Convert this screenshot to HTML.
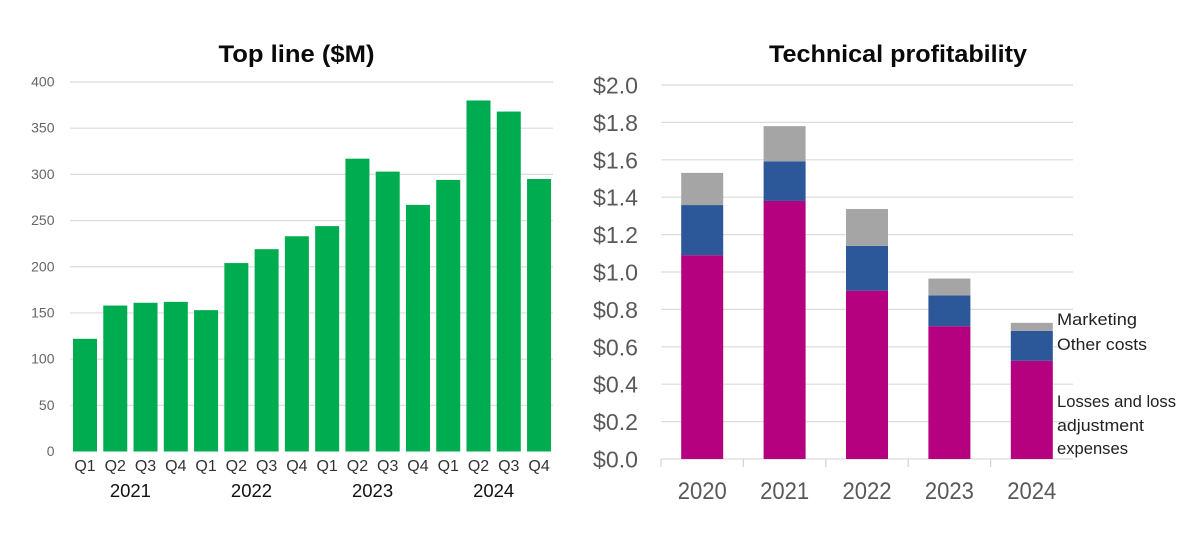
<!DOCTYPE html>
<html>
<head>
<meta charset="utf-8">
<title>Top line and technical profitability</title>
<style>
html,body{margin:0;padding:0;background:#fff;width:1200px;height:536px;overflow:hidden}
svg{display:block;font-family:"Liberation Sans",sans-serif}
</style>
</head>
<body>
<svg id="chart" width="1200" height="536" viewBox="0 0 1200 536" xmlns="http://www.w3.org/2000/svg"></svg>
<script>
const quarterLabels = ['Q1','Q2','Q3','Q4','Q1','Q2','Q3','Q4','Q1','Q2','Q3','Q4','Q1','Q2','Q3','Q4'];
const topLineValues = [122,158,161,162,153,204,219,233,244,317,303,267,294,380,368,295];
const topLineTicks = [0,50,100,150,200,250,300,350,400];
const yearGroupLabels = ['2021','2022','2023','2024'];

const profitYears = ['2020','2021','2022','2023','2024'];
const lossesValues = [1.09,1.38,0.90,0.71,0.525];
const otherCostsValues = [0.268,0.212,0.24,0.165,0.16];
const marketingValues = [0.172,0.188,0.197,0.09,0.043];
const profitTicks = [0,0.2,0.4,0.6,0.8,1.0,1.2,1.4,1.6,1.8,2.0];

const svg = document.getElementById('chart');
const NS = 'http://www.w3.org/2000/svg';
function add(tag, attrs, text){
  const el = document.createElementNS(NS, tag);
  for (const k in attrs) el.setAttribute(k, attrs[k]);
  if (text !== undefined) el.textContent = text;
  svg.appendChild(el);
  return el;
}

/* Left chart axes */
const yLeft = v => 451.5 - v * (369.5 / 400);
const leftPeriod = 30.27;
const xLeft = i => 85 + leftPeriod * i;

/* Right chart axes */
const yRight = v => 459 - v * (374 / 2);
const rightPeriod = (1073 - 661) / 5;
const xRight = i => 661 + rightPeriod * (i + 0.5);

/* Titles */
let t = add('text', {x:296.5, y:62, 'text-anchor':'middle', 'font-size':24, 'font-weight':'bold', fill:'#0a0a0a', textLength:156, lengthAdjust:'spacingAndGlyphs'}, 'Top line ($M)');


t = add('text', {x:898, y:62, 'text-anchor':'middle', 'font-size':24, 'font-weight':'bold', fill:'#0a0a0a', textLength:258, lengthAdjust:'spacingAndGlyphs'}, 'Technical profitability');



/* Left gridlines and ticks */
topLineTicks.forEach(v => {
  if (v > 0) {
    const g = add('line', {x1:70, x2:553, y1:yLeft(v), y2:yLeft(v), stroke:'#dcdcdc', 'stroke-width':1.2});
    
    
  }
  const l = add('text', {x:54.5, y:yLeft(v) + 4.5, 'text-anchor':'end', 'font-size':14, fill:'#666'}, String(v));
  
  
});

/* Left bars */
topLineValues.forEach((v, i) => {
  const b = add('rect', {x:xLeft(i) - 12, y:yLeft(v), width:24, height:yLeft(0) - yLeft(v), fill:'#00ac50'});
  
  
  const q = add('text', {x:xLeft(i), y:471, 'text-anchor':'middle', 'font-size':16, fill:'#333'}, quarterLabels[i]);
  
  
});
yearGroupLabels.forEach((y, i) => {
  const l = add('text', {x:xLeft(4 * i + 1.5), y:497, 'text-anchor':'middle', 'font-size':18.5, fill:'#111'}, y);
  
  
});

/* Right gridlines and ticks */
profitTicks.forEach(v => {
  const g = add('line', {x1:661, x2:1073, y1:yRight(v), y2:yRight(v), stroke:'#dcdcdc', 'stroke-width':1.2});
  
  
  const l = add('text', {x:638, y:yRight(v) + 8.5, 'text-anchor':'end', 'font-size':23.5, fill:'#595959', textLength:45, lengthAdjust:'spacingAndGlyphs'}, '$' + v.toFixed(1));
  
  
});
for (let i = 0; i < profitYears.length; i++) {
  const x = 661 + rightPeriod * i;
  const m = add('line', {x1:x, x2:x, y1:459, y2:467, stroke:'#d4d4d4', 'stroke-width':1.2});
  
  
}

/* Right stacked bars */
profitYears.forEach((yr, i) => {
  const stacks = [
    [lossesValues[i], '#b5007f', 'losses-segment'],
    [otherCostsValues[i], '#2c5899', 'other-costs-segment'],
    [marketingValues[i], '#a5a5a5', 'marketing-segment']
  ];
  let base = 0;
  stacks.forEach(s => {
    const r = add('rect', {x:xRight(i) - 21, y:yRight(base + s[0]), width:42, height:yRight(base) - yRight(base + s[0]), fill:s[1]});
    
    
    base += s[0];
  });
  const l = add('text', {x:xRight(i), y:499, 'text-anchor':'middle', 'font-size':24, fill:'#595959', textLength:49, lengthAdjust:'spacingAndGlyphs'}, yr);
  
  
});

/* Series annotations */
let a = add('text', {x:1057, y:325, 'font-size':16.5, fill:'#222', textLength:80, lengthAdjust:'spacingAndGlyphs'}, 'Marketing');


a = add('text', {x:1057, y:350, 'font-size':16.5, fill:'#222', textLength:90, lengthAdjust:'spacingAndGlyphs'}, 'Other costs');


a = add('text', {x:1057, y:407, 'font-size':16.5, fill:'#222', textLength:119, lengthAdjust:'spacingAndGlyphs'}, 'Losses and loss');


a = add('text', {x:1057, y:431, 'font-size':16.5, fill:'#222', textLength:87, lengthAdjust:'spacingAndGlyphs'}, 'adjustment');


a = add('text', {x:1057, y:454, 'font-size':16.5, fill:'#222', textLength:71, lengthAdjust:'spacingAndGlyphs'}, 'expenses');


</script>
</body>
</html>
